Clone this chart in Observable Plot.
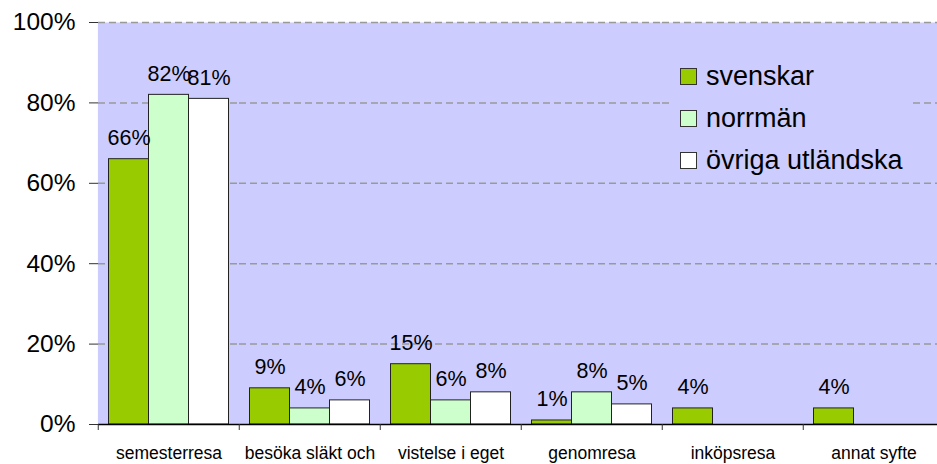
<!DOCTYPE html>
<html>
<head>
<meta charset="utf-8">
<script src="https://cdn.jsdelivr.net/npm/d3@7"></script>
<script src="https://cdn.jsdelivr.net/npm/@observablehq/plot@0.6"></script>
<style>
  html, body { margin: 0; padding: 0; background: #fff; overflow: hidden; }
  #wrap { position: relative; width: 937px; height: 464px; overflow: hidden; }
  #legend {
    position: absolute; left: 670px; top: 52px; width: 240px; height: 126px;
    background: #CCCCFF; font-family: "Liberation Sans", Arial, sans-serif; font-size: 27px; color: #000;
  }
  .item { position: absolute; left: 10px; display: flex; align-items: center; height: 30px; }
  .sw { width: 15px; height: 15px; border: 1px solid #333; margin-right: 9px; }
</style>
</head>
<body>
<div id="wrap"><div id="legend"></div></div>
<script>
const categories = ["semesterresa", "besöka släkt och", "vistelse i eget", "genomresa", "inköpsresa", "annat syfte"];
const series = ["svenskar", "norrmän", "övriga utländska"];
const svenskar = [66, 9, 15, 1, 4, 4];
const norrman = [82, 4, 6, 8, null, null];
const ovriga = [81, 6, 8, 5, null, null];
const yTicks = [0, 20, 40, 60, 80, 100];
const colors = ["#99CC00", "#CCFFCC", "#FFFFFF"];

const values = [svenskar, norrman, ovriga];
const rows = [];
categories.forEach((c, i) => {
  values.forEach((arr, j) => {
    if (arr[i] != null) rows.push({category: c, series: series[j], value: arr[i]});
  });
});

const font = "'Liberation Sans', Arial, sans-serif";
const plot = Plot.plot({
  width: 946,
  height: 464,
  marginLeft: 96.5,
  marginRight: 0,
  marginTop: 22,
  marginBottom: 40,
  style: {fontFamily: font, background: "transparent", color: "#000", overflow: "visible", maxWidth: "none"},
  fx: {domain: categories, padding: 0, label: null},
  x: {domain: series, paddingInner: 0, paddingOuter: 0.247, align: 0.5, axis: null},
  y: {domain: [0, 100], label: null},
  color: {domain: series, range: colors},
  marks: [
    Plot.frame({fill: "#CCCCFF", stroke: "none", insetLeft: -0.6, insetRight: -0.6}),
    Plot.gridY(yTicks.filter(d => d > 0), {stroke: "#999999", strokeOpacity: 1, strokeWidth: 1.5, strokeDasharray: "7,4"}),
    Plot.barY(rows, {fx: "category", x: "series", y: "value", fill: "series", stroke: "#222", strokeWidth: 1}),
    Plot.ruleY([0], {stroke: "#000", strokeWidth: 1.5}),
    Plot.text(rows, {fx: "category", x: "series", y: "value", text: d => d.value + "%", dy: -14, lineAnchor: "bottom", fontSize: 21.5, fill: "#000"}),
    Plot.axisY(yTicks, {tickFormat: d => d + "%", tickSize: 9, tickPadding: 14, fontSize: 24.5, line: true, label: null, stroke: "#333"}),
    Plot.axisFx({anchor: "bottom", tickSize: 6, tickFormat: () => "", dx: -70.75, label: null, stroke: "#333"}),
    Plot.axisFx({anchor: "bottom", tickSize: 0, tickPadding: 22, fontSize: 17.5, label: null})
  ]
});
plot.style.maxWidth = "none";
plot.style.position = "absolute";
plot.style.left = "0";
plot.style.top = "0";
document.getElementById("wrap").prepend(plot);

const legend = document.getElementById("legend");
series.forEach((s, i) => {
  const item = document.createElement("div");
  item.className = "item";
  item.style.top = (9 + i * 42) + "px";
  const sw = document.createElement("div");
  sw.className = "sw";
  sw.style.background = colors[i];
  const t = document.createElement("span");
  t.textContent = s;
  item.append(sw, t);
  legend.append(item);
});
</script>
</body>
</html>
